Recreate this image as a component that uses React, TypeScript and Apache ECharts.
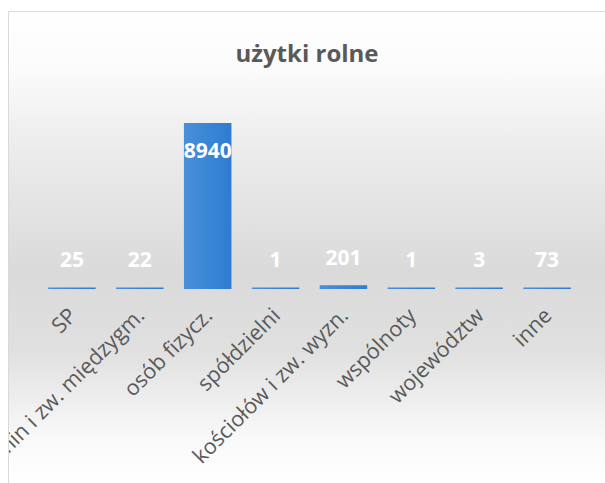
import React, { useEffect, useRef } from "react";
import * as echarts from "echarts";

const categories = [
  "SP",
  "gmin i zw. międzygm.",
  "osób fizycz.",
  "spółdzielni",
  "kościołów i zw. wyzn.",
  "wspólnoty",
  "województw",
  "inne",
];
const values = [25, 22, 8940, 1, 201, 1, 3, 73];
const titleText = "użytki rolne";

export default function App() {
  const ref = useRef<HTMLDivElement>(null);
  useEffect(() => {
    if (!ref.current) return;
    const chart = echarts.init(ref.current, null, { renderer: "svg" });
    const maxVal = Math.max(...values);
    chart.setOption({
      animation: false,
      backgroundColor: {
        type: "linear",
        x: 0,
        y: 0,
        x2: 0,
        y2: 1,
        colorStops: [
          { offset: 0, color: "#ffffff" },
          { offset: 0.12, color: "#fbfbfb" },
          { offset: 0.3, color: "#ebebeb" },
          { offset: 0.55, color: "#dadada" },
          { offset: 0.72, color: "#e0e0e0" },
          { offset: 0.9, color: "#f8f8f8" },
          { offset: 1, color: "#ffffff" },
        ],
      },
      title: {
        text: titleText,
        left: "center",
        top: 23,
        textStyle: {
          fontFamily: "Open Sans",
          fontSize: 24,
          fontWeight: "bold",
          color: "#595959",
        },
      },
      grid: {
        left: 29,
        right: 24,
        top: 111,
        bottom: 194,
        containLabel: false,
        outerBoundsMode: "none",
      },
      xAxis: {
        type: "category",
        data: categories,
        axisLine: { show: false },
        axisTick: { show: false },
        axisLabel: {
          rotate: 45,
          interval: 0,
          margin: 22,
          fontFamily: "Open Sans",
          fontSize: 21.5,
          color: "#595959",
          hideOverlap: false,
        },
      },
      yAxis: {
        type: "value",
        min: 0,
        max: maxVal,
        show: false,
        splitLine: { show: false },
      },
      series: [
        {
          type: "bar",
          barCategoryGap: "30%",
          barMinHeight: 1.5,
          data: values.map((v) => ({
            value: v,
            label:
              v === maxVal
                ? { position: "insideTop", distance: 16 }
                : { position: "top", distance: 18 },
          })),
          itemStyle: {
            color: {
              type: "linear",
              x: 0,
              y: 0,
              x2: 1,
              y2: 0,
              colorStops: [
                { offset: 0, color: "#4a8fdb" },
                { offset: 0.5, color: "#3a86d6" },
                { offset: 1, color: "#2f7bd0" },
              ],
            },
          },
          label: {
            show: true,
            color: "#ffffff",
            fontFamily: "Open Sans",
            fontWeight: "bold",
            fontSize: 21,
          },
        },
      ],
    });
    return () => chart.dispose();
  }, []);
  return (
    <div
      style={{
        position: "absolute",
        left: 8,
        top: 11,
        width: 596,
        height: 471,
        borderLeft: "1px solid #d9d9d9",
        borderTop: "1px solid #d9d9d9",
      }}
    >
      <div ref={ref} style={{ width: 596, height: 471 }} />
    </div>
  );
}
